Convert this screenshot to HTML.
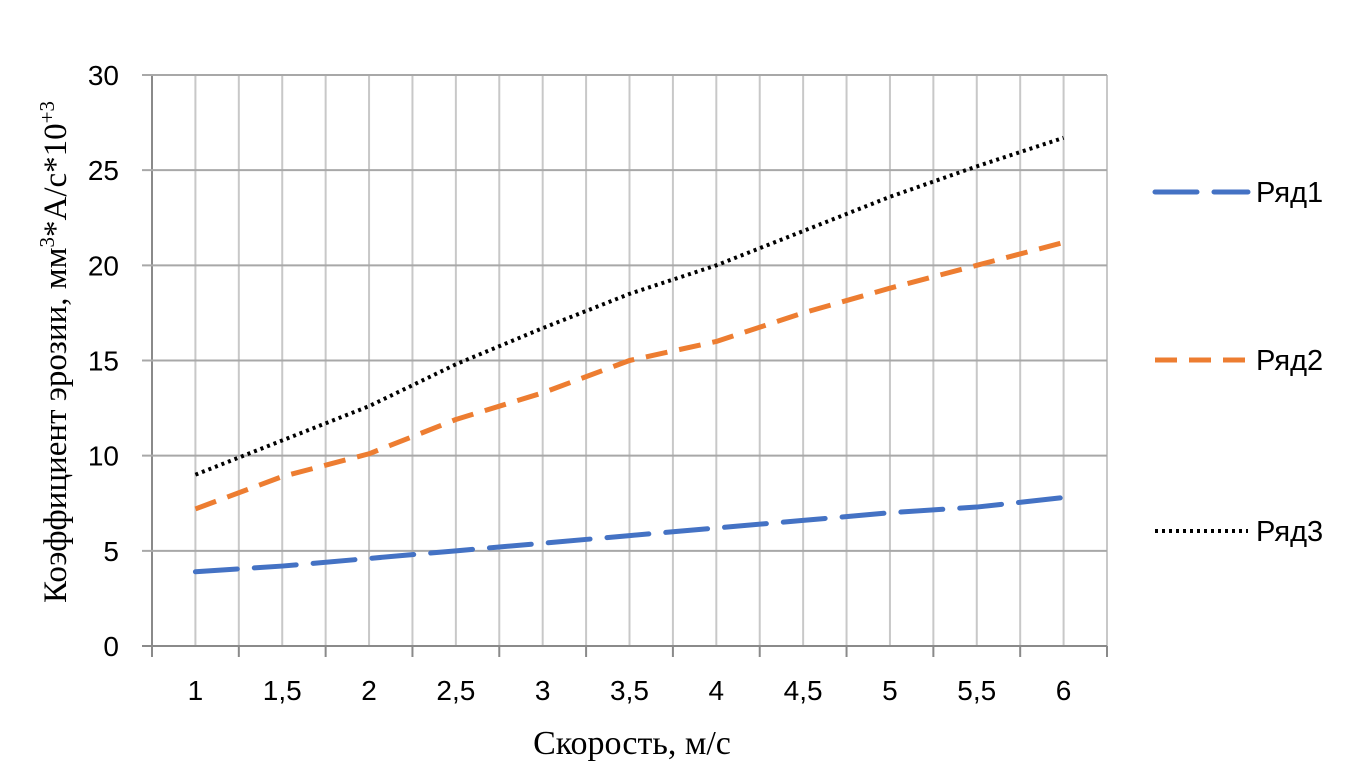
<!DOCTYPE html>
<html><head><meta charset="utf-8"><style>
body{margin:0;background:#fff;}
svg text{font-family:"Liberation Sans","DejaVu Sans",sans-serif;}
</style></head><body>
<svg id="chart" width="1347" height="772" xmlns="http://www.w3.org/2000/svg">
<g id="grid"></g>
<g id="series"></g>
<g id="labels"></g>
<text x="0" y="0" transform="translate(66,352) rotate(-90)" text-anchor="middle" font-size="33" fill="#000" style="font-family:'Liberation Serif',serif">Коэффициент эрозии, мм<tspan font-size="21" dy="-12">3</tspan><tspan dy="12">*А/с*10</tspan><tspan font-size="21" dy="-12">+3</tspan></text>
<text x="632" y="754" text-anchor="middle" font-size="34" fill="#000" style="font-family:'Liberation Serif',serif">Скорость, м/с</text>
<g id="legend"></g>
</svg>
<script>
const categories=["1","1,5","2","2,5","3","3,5","4","4,5","5","5,5","6"];
const yTicks=[0,5,10,15,20,25,30];
const series1=[3.9,4.2,4.6,5.0,5.4,5.8,6.2,6.6,7.0,7.3,7.8];
const series2=[7.2,8.9,10.1,11.9,13.3,15.0,16.0,17.5,18.8,20.0,21.2];
const series3=[9.0,10.8,12.6,14.8,16.7,18.5,20.0,21.8,23.6,25.2,26.7];
const seriesNames=["Ряд1","Ряд2","Ряд3"];

const NS="http://www.w3.org/2000/svg";
const L=152,R=1107,T=75,B=646,yMax=30;
const step=(R-L)/categories.length;
const xs=i=>L+step*(i+0.5);
const ys=v=>B-(v/yMax)*(B-T);
function mk(tag,attrs,parent){const e=document.createElementNS(NS,tag);for(const k in attrs)e.setAttribute(k,attrs[k]);parent.appendChild(e);return e;}
const grid=document.getElementById('grid'),lab=document.getElementById('labels'),ser=document.getElementById('series'),leg=document.getElementById('legend');
for(let k=0;k<=categories.length*2;k++){
  const x=L+k*step/2;
  const g=mk('line',{x1:x,x2:x,y1:T,y2:B,stroke:k===0?'#8a8a8a':'#c8c8c8','stroke-width':2},grid);
  
  
  if(k%2===0){const t=mk('line',{x1:x,x2:x,y1:B,y2:B+11,stroke:'#8a8a8a','stroke-width':2},grid);
    
    }
}
yTicks.forEach(v=>{
  const y=ys(v);
  const g=mk('line',{x1:L-10,x2:R,y1:y,y2:y,stroke:v===0?'#8a8a8a':'#a8a8a8','stroke-width':2},grid);
  
  
  const t=mk('text',{x:119,y:y+10,'text-anchor':'end','font-size':28,fill:'#000'},lab);t.textContent=String(v);
  
  
});
categories.forEach((c,i)=>{
  const t=mk('text',{x:xs(i),y:700,'text-anchor':'middle','font-size':28,fill:'#000'},lab);t.textContent=c;
  
  
});
const styles=[{c:'#4472c4',d:'42 17',cap:'round'},{c:'#ed7d31',d:'22 12',cap:'butt'},{c:'#000',d:'3 4',cap:'butt'}];
[series1,series2,series3].forEach((s,si)=>{
  const st=styles[si];
  const p=mk('polyline',{points:s.map((v,i)=>xs(i)+','+ys(v)).join(' '),fill:'none',stroke:st.c,'stroke-width':si===2?4:5,'stroke-dasharray':st.d,'stroke-linecap':st.cap,'stroke-linejoin':'round'},ser);
  
  
  const ly=[192,360,531][si];
  const l=mk('line',{x1:1155,x2:1248,y1:ly,y2:ly,stroke:st.c,'stroke-width':si===2?4:5,'stroke-dasharray':st.d,'stroke-linecap':st.cap},leg);
  
  
  const t=mk('text',{x:1256,y:ly+10,'font-size':29,fill:'#000'},leg);t.textContent=seriesNames[si];
  
  
});
</script>
</body></html>
